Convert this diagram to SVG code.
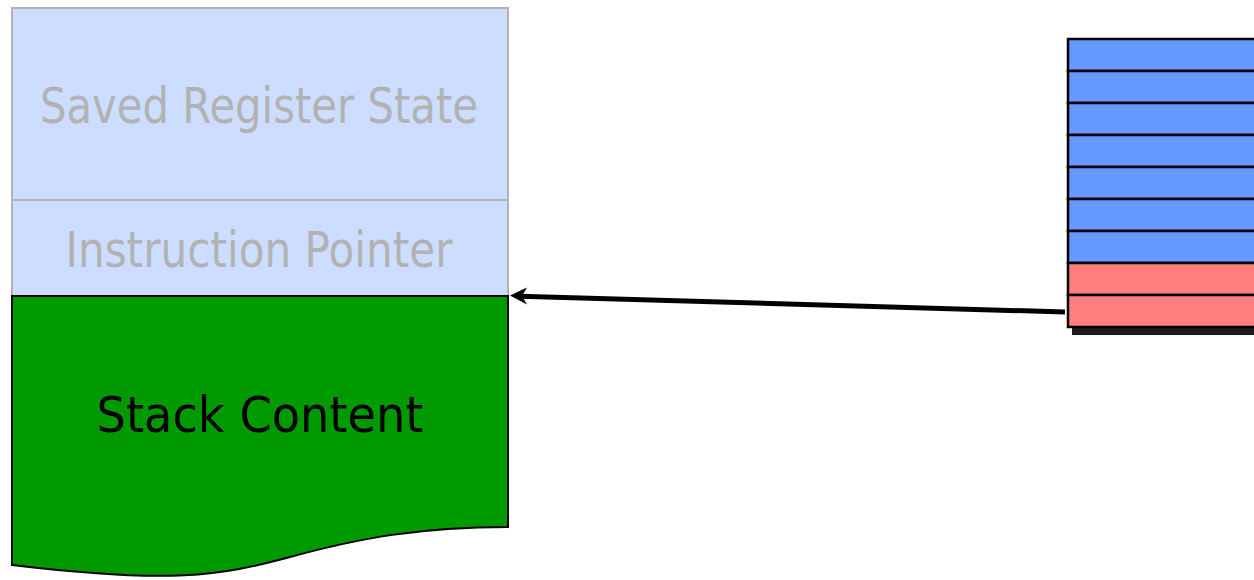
<svg xmlns="http://www.w3.org/2000/svg" width="1254" height="580" viewBox="0 0 1254 580">
<defs>
<style>
.lbl{font-family:"DejaVu Sans","Liberation Sans",sans-serif;font-size:50px;text-anchor:middle}
.gray{fill:#B2B2B2}
.pale{fill:#CCDDFF;stroke:#B2B2B2;stroke-width:2}
.blue{fill:#6699FF;stroke:#000;stroke-width:2.5}
.pink{fill:#FF7F7F;stroke:#000;stroke-width:2.5}
</style>
</defs>
<rect width="1254" height="580" fill="#fff"/>
<g id="saved-register-state">
<rect class="pale" x="12" y="8" width="496" height="192"/>
<text class="lbl gray" x="259" y="123" textLength="438" lengthAdjust="spacingAndGlyphs">Saved Register State</text>
</g>
<g id="instruction-pointer">
<rect class="pale" x="12" y="200" width="496" height="96"/>
<text class="lbl gray" x="259" y="267" textLength="387" lengthAdjust="spacingAndGlyphs">Instruction Pointer</text>
</g>
<g id="stack-content">
<path d="M12,296 H508 V527 C420,527 360,538 290,557 C220,576 170,584 12,565 Z" fill="#009900" stroke="#000" stroke-width="2"/>
<text class="lbl" x="260" y="432" fill="#000" textLength="327" lengthAdjust="spacingAndGlyphs">Stack Content</text>
</g>
<g id="stack">
<rect x="1072" y="44" width="200" height="291" fill="#1a1a1a"/>
<rect class="blue" x="1068" y="39" width="200" height="32"/>
<rect class="blue" x="1068" y="71" width="200" height="32"/>
<rect class="blue" x="1068" y="103" width="200" height="32"/>
<rect class="blue" x="1068" y="135" width="200" height="32"/>
<rect class="blue" x="1068" y="167" width="200" height="32"/>
<rect class="blue" x="1068" y="199" width="200" height="32"/>
<rect class="blue" x="1068" y="231" width="200" height="32"/>
<rect class="pink" x="1068" y="263" width="200" height="32"/>
<rect class="pink" x="1068" y="295" width="200" height="32"/>
</g>
<g id="connectors">
<line x1="1065" y1="312" x2="520" y2="296.3" stroke="#000" stroke-width="5"/>
<path d="M510,295.5 L527,287.5 L522,296 L527,304.5 Z" fill="#000"/>
</g>
</svg>
